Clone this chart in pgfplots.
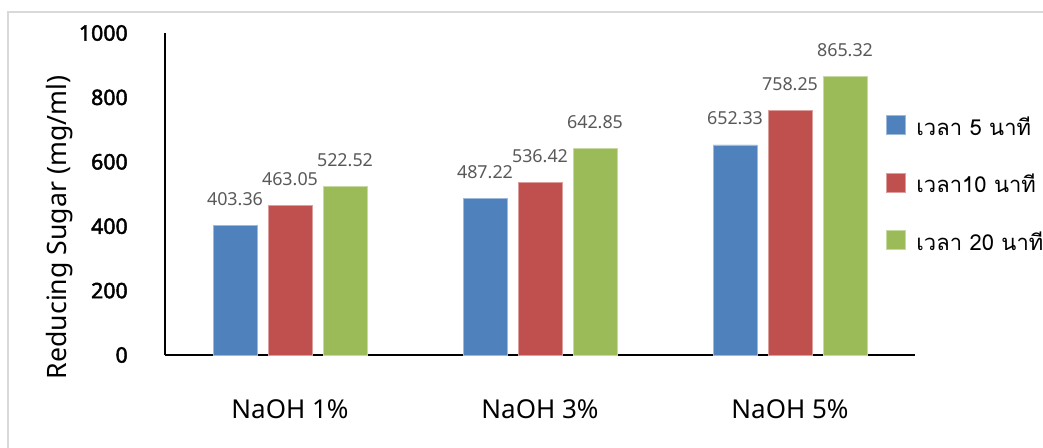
\documentclass[border=0pt]{standalone}
\usepackage{fontspec}
\usepackage{pgfplots}
\pgfplotsset{compat=1.18}
\setmainfont{Noto Sans}
\newfontfamily\tickfont{Noto Sans}[FakeBold=2.2]
\newfontfamily\thaifont[Script=Thai]{Loma}

\definecolor{barblue}{RGB}{79,129,189}
\definecolor{barred}{RGB}{192,80,77}
\definecolor{bargreen}{RGB}{155,187,89}
\definecolor{labelgray}{RGB}{89,89,89}
\definecolor{framegray}{RGB}{217,217,217}

\pgfplotsset{
  swatch/.style={legend image code/.code={\fill[##1] (0pt,0.75pt) rectangle (14.25pt,15pt);}},
}

\begin{document}
\begin{tikzpicture}
% outer chart frame
\draw[framegray, line width=1.1pt] (6pt,-5pt) -- (6pt,326.25pt) -- (790pt,326.25pt);
\begin{axis}[
  at={(123.75pt,69pt)}, anchor=south west,
  scale only axis, width=562.5pt, height=241.5pt,
  xmin=-0.5, xmax=2.5, ymin=0, ymax=1000,
  axis x line*=bottom, axis y line*=left,
  axis line style={black, line width=1.1pt, -},
  major tick length=0pt,
  xtick={0,1,2},
  xticklabels={NaOH 1\%, NaOH 3\%, NaOH 5\%},
  ytick={0,200,...,1000},
  /pgf/number format/assume math mode=true,
  /pgf/number format/1000 sep={},
  xticklabel style={font=\fontsize{19.5pt}{23pt}\selectfont, inner sep=0pt, anchor=north, yshift=-33pt},
  yticklabel style={font=\tickfont\fontsize{16pt}{19pt}\selectfont, inner sep=0pt, anchor=east, xshift=-27.75pt},
  ylabel={Reducing Sugar (mg/ml)},
  ylabel style={font=\fontsize{20pt}{24pt}\selectfont, at={(axis description cs:-0.1307,0.396)}, anchor=base, inner sep=0pt},
  ybar=8.25pt, bar width=33pt,
  nodes near coords, point meta=explicit symbolic,
  every node near coord/.append style={font=\fontsize{13.4pt}{16pt}\selectfont, text=labelgray, inner sep=0pt, anchor=south, yshift=14.5pt},
  clip=false,
  legend style={at={(axis description cs:0.9613,0.7516)}, anchor=north west,
    draw=none, fill=none, inner sep=0pt, outer sep=0pt,
    column sep=6pt, row sep=22.5pt,
    font=\thaifont\fontsize{16.5pt}{19pt}\selectfont,
    cells={anchor=base west, inner sep=0pt, text height=15pt, text depth=4.5pt}},
]
\addplot[fill=barblue, draw=barblue!55!white, line width=0.6pt, swatch]
  coordinates {(0,403.36) [403.36] (1,487.22) [487.22] (2,652.33) [652.33]};
\addplot[fill=barred, draw=barred!55!white, line width=0.6pt, swatch]
  coordinates {(0,463.05) [463.05] (1,536.42) [536.42] (2,758.25) [758.25]};
\addplot[fill=bargreen, draw=bargreen!55!white, line width=0.6pt, swatch]
  coordinates {(0,522.52) [522.52] (1,642.85) [642.85] (2,865.32) [865.32]};
\legend{เวลา 5 นาที, เวลา10 นาที, เวลา 20 นาที}
\end{axis}
\pgfresetboundingbox
\useasboundingbox (0pt,0pt) rectangle (782.25pt,335.25pt);
\end{tikzpicture}
\end{document}
